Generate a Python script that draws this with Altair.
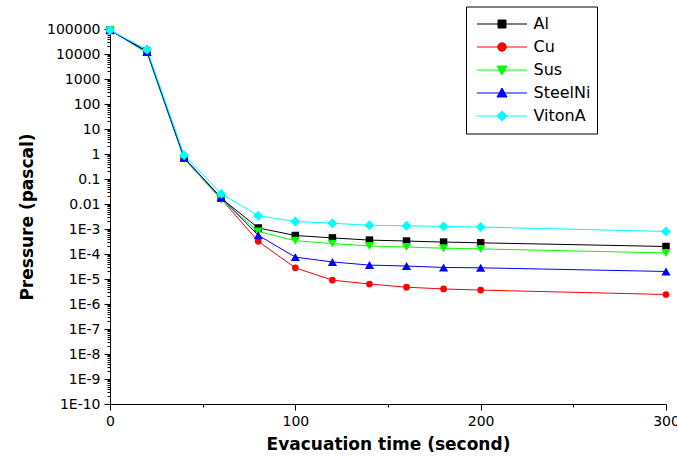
import json

import altair as alt
import pandas as pd

# Evacuation time (s) at which pressure was sampled
times = [0, 20, 40, 60, 80, 100, 120, 140, 160, 180, 200, 300]

# Chamber pressure (Pa) for each wall material
series_names = ["Al", "Cu", "Sus", "SteelNi", "VitonA"]
al = [9e4, 1.3e4, 0.70, 0.017, 1.1e-3, 5.5e-4, 4.4e-4, 3.6e-4, 3.3e-4, 3.0e-4, 2.8e-4, 2.0e-4]
cu = [9e4, 1.2e4, 0.65, 0.016, 3.2e-4, 2.8e-5, 9.0e-6, 6.3e-6, 4.7e-6, 4.0e-6, 3.6e-6, 2.4e-6]
sus = [9e4, 1.1e4, 0.65, 0.015, 8.0e-4, 3.4e-4, 2.6e-4, 2.1e-4, 1.9e-4, 1.7e-4, 1.6e-4, 1.1e-4]
steelni = [9e4, 1.2e4, 0.70, 0.018, 5.6e-4, 7.5e-5, 4.8e-5, 3.6e-5, 3.3e-5, 2.9e-5, 2.8e-5, 2.0e-5]
vitona = [9e4, 1.5e4, 0.90, 0.026, 3.4e-3, 2.0e-3, 1.7e-3, 1.4e-3, 1.35e-3, 1.27e-3, 1.2e-3, 8.0e-4]
series_values = [al, cu, sus, steelni, vitona]

series_colors = ["#000000", "#FF0000", "#00FF00", "#0000FF", "#00FFFF"]
marker_shapes = ["square", "circle", "triangle-down", "triangle-up", "diamond"]
marker_sizes = [56, 45, 85, 85, 100]

# Legend glyphs: a short line with the series marker in its middle
legend_glyphs = [
    "M-1,0H1M-0.16,-0.16H0.16V0.16H-0.16Z",
    "M-1,0H1M-0.17,0A0.17,0.17,0,1,0,0.17,0A0.17,0.17,0,1,0,-0.17,0Z",
    "M-1,0H1M-0.2,-0.16L0.2,-0.16L0,0.2Z",
    "M-1,0H1M-0.2,0.16L0.2,0.16L0,-0.2Z",
    "M-1,0H1M0,-0.2L0.2,0L0,0.2L-0.2,0Z",
]

# Axis ticks
y_tick_labels = ["1E-10", "1E-9", "1E-8", "1E-7", "1E-6", "1E-5", "1E-4", "1E-3",
                 "0.01", "0.1", "1", "10", "100", "1000", "10000", "100000"]
y_decades = list(range(-10, 6))
y_major = [10.0 ** k for k in y_decades]
y_minor = [m * 10.0 ** k for k in y_decades[:-1] for m in range(2, 10)]
x_ticks = [0, 50, 100, 150, 200, 250, 300]

rows = [
    {"series": name, "time": t, "pressure": p}
    for name, vals in zip(series_names, series_values)
    for t, p in zip(times, vals)
]
df = pd.DataFrame(rows)

major_test = "abs(log(datum.value)/LN10 - round(log(datum.value)/LN10)) < 1e-6"
y_axis = alt.Axis(
    values=sorted(y_major + y_minor),
    labelExpr=f"({major_test}) ? {json.dumps(y_tick_labels)}[round(log(datum.value)/LN10) + 10] : ''",
    tickSize={"condition": {"test": major_test, "value": 6}, "value": 3},
    labelOverlap=False,
    labelFlush=False,
    labelPadding=4,
    title="Pressure (pascal)",
    titlePadding=10,
)
x_axis = alt.Axis(
    values=x_ticks,
    labelExpr="datum.value % 100 === 0 ? datum.label : ''",
    tickSize={"condition": {"test": "datum.value % 100 === 0", "value": 6}, "value": 3},
    labelOverlap=False,
    labelFlush=False,
    labelPadding=4,
    title="Evacuation time (second)",
    titlePadding=8,
)

base = alt.Chart(df).encode(
    x=alt.X("time:Q", scale=alt.Scale(domain=[0, 300], nice=False, zero=False), axis=x_axis),
    y=alt.Y("pressure:Q", scale=alt.Scale(type="log", domain=[1e-10, 1e5], nice=False), axis=y_axis),
)

# One line layer and one marker layer per material
line_layers = [
    base.transform_filter(alt.datum.series == name).mark_line(strokeWidth=1, color=color)
    for name, color in zip(series_names, series_colors)
]
point_layers = [
    base.transform_filter(alt.datum.series == name).mark_point(
        filled=True, shape=shape, size=size, color=color, opacity=1
    )
    for name, shape, size, color in zip(series_names, marker_shapes, marker_sizes, series_colors)
]

legend = alt.Legend(
    orient="none",
    legendX=356,
    legendY=-22.5,
    strokeColor="black",
    fillColor="white",
    padding=6,
    symbolSize=2500,
    symbolStrokeWidth=1,
    symbolOpacity=1,
    symbolOffset=4.5,
    clipHeight=23,
    rowPadding=0,
    labelOffset=6,
    labelFont="DejaVu Sans",
    labelFontSize=16,
    labelColor="black",
)

color_scale = alt.Scale(domain=series_names, range=series_colors)

# Key only: the marks of this layer are filtered away, its scales carry the legend
legend_layer = (
    base.transform_filter("false")
    .mark_point(filled=True)
    .encode(
        fill=alt.Fill("series:N", scale=color_scale, legend=legend, title=""),
        stroke=alt.Stroke("series:N", scale=color_scale, legend=legend, title=""),
        shape=alt.Shape("series:N", scale=alt.Scale(domain=series_names, range=legend_glyphs),
                        legend=legend, title=""),
    )
)

chart = (
    alt.layer(*line_layers, *point_layers, legend_layer)
    .properties(
        width=556,
        height=375,
        padding={"left": 110, "top": 29, "right": 11, "bottom": 58},
        autosize=alt.AutoSizeParams(type="none"),
        background="white",
    )
    .configure_view(stroke=None)
    .configure_axis(
        grid=False,
        domainColor="black",
        tickColor="black",
        labelColor="black",
        titleColor="black",
        labelFont="DejaVu Sans",
        labelFontSize=14,
        titleFont="DejaVu Sans",
        titleFontSize=17,
        titleFontWeight="bold",
    )
)

chart.save("out.html", embed_options={"renderer": "svg", "actions": False})
